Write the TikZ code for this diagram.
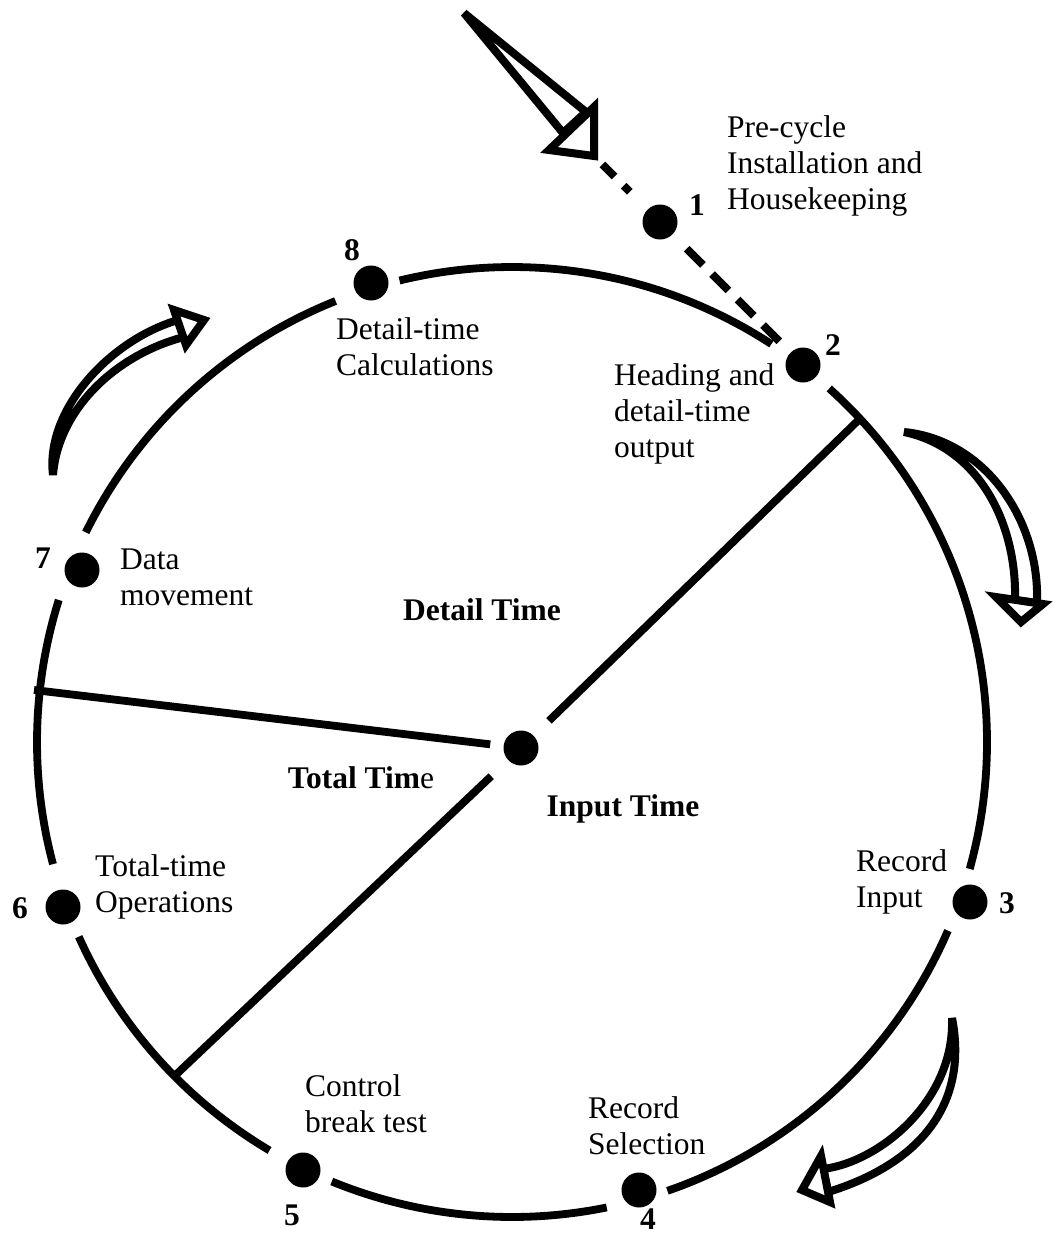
\documentclass[tikz,border=0pt]{standalone}
\usepackage{fontspec}
\setmainfont{Liberation Serif}
\usetikzlibrary{calc}
\begin{document}
\begin{tikzpicture}[x=1pt, y=-1pt,
  ring/.style={line width=7.8pt},
  dashes/.style={line width=8pt, dash pattern=on 23pt off 13pt},
  wedge/.style={line width=8pt, line join=miter, miter limit=3},
  headtri/.style={line width=8pt, line join=miter, fill=white},
  dot/.style={circle, fill=black, inner sep=0pt, minimum size=35pt},
  lbl/.style={font=\fontsize{31.5}{36}\selectfont, align=left, inner sep=0pt, anchor=west},
  num/.style={font=\fontsize{31.5}{36}\selectfont\bfseries, inner sep=0pt, anchor=base},
  zone/.style={font=\fontsize{31.5}{36}\selectfont\bfseries, inner sep=0pt, anchor=base},
]
\useasboundingbox (0,0) rectangle (1052,1236);

% centre of the cycle
\coordinate (O) at (512,742);

% the cycle, broken at each step
\draw[ring] (O) ++(311.9:475) arc[start angle=311.9, end angle=375.5, radius=475];
\draw[ring] (O) ++(23.4:475)  arc[start angle=23.4,  end angle=70.9,  radius=475];
\draw[ring] (O) ++(78.5:475)  arc[start angle=78.5,  end angle=112.3, radius=475];
\draw[ring] (O) ++(120.7:475) arc[start angle=120.7, end angle=155.8, radius=475];
\draw[ring] (O) ++(165.1:475) arc[start angle=165.1, end angle=197.4, radius=475];
\draw[ring] (O) ++(206.2:475) arc[start angle=206.2, end angle=248.2, radius=475];
\draw[ring] (O) ++(256.3:475) arc[start angle=256.3, end angle=303.1, radius=475];

% steps
\node[dot] (d1) at (660,222) {};
\node[dot] (d2) at (803,365) {};
\node[dot] (d3) at (970,902) {};
\node[dot] (d4) at (639,1190) {};
\node[dot] (d5) at (303,1170) {};
\node[dot] (d6) at (63,907) {};
\node[dot] (d7) at (82,570) {};
\node[dot] (d8) at (371,283) {};
\node[dot] (ctr) at (521,748) {};

% spokes dividing the three times
\coordinate (s1) at ($(O)+(317.1:475)$);
\coordinate (s2) at (34,690);
\coordinate (s3) at ($(O)+(135.3:477)$);
\draw[ring] (s1) -- ($(ctr)!39pt!(s1)$);
\draw[ring] (s2) -- ($(ctr)!31pt!(s2)$);
\draw[ring] (s3) -- ($(ctr)!41pt!(s3)$);

% entry arrow
\coordinate (tail) at (464,13);
\coordinate (tip) at (594,156);
\draw[wedge] (tail) -- (563,133) -- (586,112) -- cycle;
\draw[headtri] (tip) -- (594,107) -- (549,150) -- cycle;

% pre-cycle path
\draw[dashes, dash phase=6pt, shorten <=12pt, shorten >=25pt] (tip) -- (d1);
\draw[dashes, shorten <=20pt, shorten >=15pt] (d1) -- (d2);

% direction arrows
\coordinate (rT) at (904,432);
\coordinate (rOb) at (1037,603);
\coordinate (rIb) at (1015,600);
\draw[wedge] (rT) .. controls (985,440) and (1040,520) .. (rOb) -- (rIb)
  .. controls (1017,525) and (980,448) .. (rT) -- cycle;
\draw[headtri] (996,597) -- (1043,604) -- (1021,622) -- cycle;

\coordinate (bT) at (952,1018);
\coordinate (bOb) at (828,1192);
\coordinate (bIb) at (823,1169);
\draw[wedge] (bT) .. controls (968,1100) and (925,1162) .. (bOb) -- (bIb)
  .. controls (880,1162) and (955,1100) .. (bT) -- cycle;
\draw[headtri] (821,1156) -- (802,1190) -- (830,1202) -- cycle;

\coordinate (lT) at (53,475);
\coordinate (lOb) at (178,320);
\coordinate (lIb) at (184,337);
\draw[wedge] (lT) .. controls (45,410) and (110,340) .. (lOb) -- (lIb)
  .. controls (115,355) and (58,410) .. (lT) -- cycle;
\draw[headtri] (174,310) -- (204,320) -- (186,345) -- cycle;

% step numbers
\node[num] (n1) at (697,215) {1};
\node[num] (n2) at (833,355) {2};
\node[num] (n3) at (1007,913) {3};
\node[num] (n4) at (648,1229) {4};
\node[num] (n5) at (292,1225) {5};
\node[num] (n6) at (20,918) {6};
\node[num] (n7) at (43,568) {7};
\node[num] (n8) at (352,260) {8};

% step descriptions
\node[lbl] (t1) at (727,166) {Pre-cycle\\Installation and\\Housekeeping};
\node[lbl] (t2) at (614,414) {Heading and\\detail-time\\output};
\node[lbl] (t3) at (856,882) {Record\\Input};
\node[lbl] (t4) at (588,1126) {Record\\Selection};
\node[lbl] (t5) at (305,1104) {Control\\break test};
\node[lbl] (t6) at (95,887) {Total-time\\Operations};
\node[lbl] (t7) at (120,577) {Data\\movement};
\node[lbl] (t8) at (336,347) {Detail-time\\Calculations};

% the three times
\node[zone] (zd) at (482,620) {Detail Time};
\node[zone] (zt) at (361,788) {Total Tim\textmd{e}};
\node[zone] (zi) at (623,816) {Input Time};
\end{tikzpicture}
\end{document}
